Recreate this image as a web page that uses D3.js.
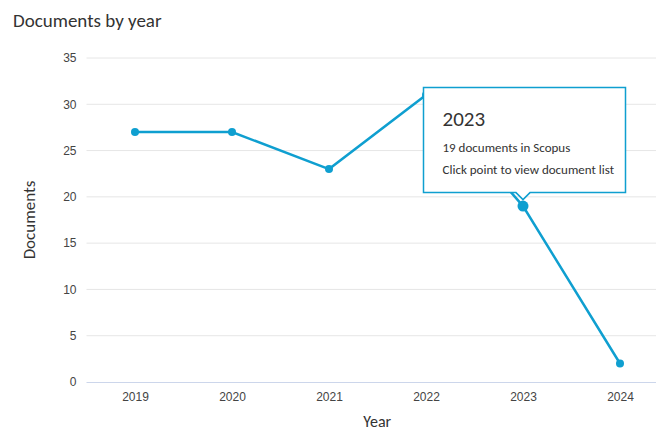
<!DOCTYPE html>
<html lang="en">
<head>
    <meta charset="utf-8" />
    <title>Documents by year</title>
    <script src="https://d3js.org/d3.v7.min.js"></script>
    <style>
        body {
            margin: 0;
            background: white;
        }
        svg {
            font-family: Carlito, 'Liberation Sans Narrow', 'Open Sans', sans-serif;
        }
        .tick text {
            fill: #444;
            font-size: 12px;
        }
    </style>
</head>
<body>
    <script>

        // Data
        const years = ["2019", "2020", "2021", "2022", "2023", "2024"];
        const documents = [27, 27, 23, 31, 19, 2];
        const yTicks = [0, 5, 10, 15, 20, 25, 30, 35];
        const hoverYear = "2023";

        const width = 656;
        const height = 430;
        const lineColor = "#0f9fd0";

        const svg = d3.select("body")
            .append("svg")
            .attr("width", width)
            .attr("height", height);

        // Plot area
        const plotLeft = 86.5, plotTop = 58, plotBottom = 382;

        const x = d3.scalePoint()
            .domain(years)
            .range([plotLeft, plotLeft + 97 * 6])
            .padding(0.5);

        const y = d3.scaleLinear()
            .domain([0, 35])
            .range([plotBottom, plotTop]);

        // Title
        svg.append("text")
            .attr("x", 13)
            .attr("y", 27)
            .attr("font-size", 19)
            .attr("fill", "#333")
            .text("Documents by year");

        // Grid lines
        svg.append("g")
            .selectAll("line")
            .data(yTicks.filter(d => d > 0))
            .join("line")
            .attr("x1", plotLeft)
            .attr("x2", width)
            .attr("y1", d => y(d))
            .attr("y2", d => y(d))
            .attr("stroke", "#e6e6e6")
            .attr("stroke-width", 1);

        // Y axis labels
        const yAxis = svg.append("g")
            .attr("transform", `translate(${plotLeft - 10},0)`)
            .call(d3.axisLeft(y).tickValues(yTicks).tickSize(0).tickPadding(0));
        yAxis.select(".domain").remove();

        // X axis
        const xAxis = svg.append("g")
            .attr("transform", `translate(0,${plotBottom})`)
            .call(d3.axisBottom(x).tickSize(0).tickPadding(10));
        xAxis.select(".domain")
            .attr("d", `M${plotLeft},0.5H${width}`)
            .attr("stroke", "#ccd6eb");

        // Axis titles
        svg.append("text")
            .attr("transform", `translate(35,${(plotTop + plotBottom) / 2}) rotate(-90)`)
            .attr("text-anchor", "middle")
            .attr("font-size", 17)
            .attr("fill", "#333")
            .text("Documents");

        svg.append("text")
            .attr("x", (plotLeft + width) / 2 + 6)
            .attr("y", 427)
            .attr("text-anchor", "middle")
            .attr("font-size", 16)
            .attr("fill", "#333")
            .text("Year");

        // Line
        const line = d3.line()
            .x((d, i) => x(years[i]))
            .y(d => y(d));

        svg.append("path")
            .datum(documents)
            .attr("fill", "none")
            .attr("stroke", lineColor)
            .attr("stroke-width", 2.5)
            .attr("d", line);

        // Points
        svg.append("g")
            .selectAll("circle")
            .data(documents)
            .join("circle")
            .attr("cx", (d, i) => x(years[i]))
            .attr("cy", d => y(d))
            .attr("r", (d, i) => years[i] === hoverYear ? 5.5 : 4)
            .attr("fill", lineColor);

        // Tooltip for the hovered point
        const hi = years.indexOf(hoverYear);
        const px = x(hoverYear), py = y(documents[hi]);
        const boxW = 202, boxH = 105;
        const bx = px - 99.5, by = py - 118.5;
        const tip = svg.append("g");
        tip.append("path")
            .attr("d", `M${bx},${by}h${boxW}v${boxH}H${px + 7}l-7,7l-7,-7H${bx}Z`)
            .attr("fill", "white")
            .attr("stroke", lineColor)
            .attr("stroke-width", 1.5);
        tip.append("text")
            .attr("x", bx + 19)
            .attr("y", by + 38)
            .attr("font-size", 21)
            .attr("fill", "#333")
            .text(hoverYear);
        tip.append("text")
            .attr("x", bx + 19)
            .attr("y", by + 64)
            .attr("font-size", 13)
            .attr("fill", "#333")
            .text(`${documents[hi]} documents in Scopus`);
        tip.append("text")
            .attr("x", bx + 19)
            .attr("y", by + 86)
            .attr("font-size", 13)
            .attr("fill", "#333")
            .text("Click point to view document list");

    </script>
</body>
</html>
